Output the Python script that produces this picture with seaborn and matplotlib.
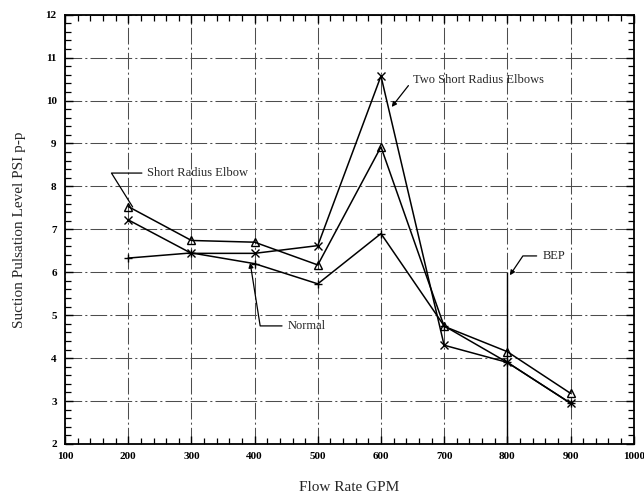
import numpy as np
import pandas as pd
import matplotlib
matplotlib.use("Agg")
import matplotlib.pyplot as plt
import seaborn as sns
from matplotlib.ticker import MultipleLocator

flow = [200, 300, 400, 500, 600, 700, 800, 900]
normal = [6.33, 6.45, 6.20, 5.73, 6.90, 4.75, 3.90, 2.95]
short_elbow = [7.53, 6.74, 6.70, 6.17, 8.92, 4.74, 4.15, 3.18]
two_elbows = [7.22, 6.44, 6.44, 6.62, 10.57, 4.30, 3.90, 2.95]
series_names = ["Normal", "Short Radius Elbow", "Two Short Radius Elbows"]

df = pd.DataFrame({
    "flow": flow * 3,
    "psi": normal + short_elbow + two_elbows,
    "series": [series_names[0]] * 8 + [series_names[1]] * 8 + [series_names[2]] * 8,
})

sns.set_theme(style="white")
plt.rcParams["font.family"] = ["Liberation Serif", "DejaVu Serif"]

fig = plt.figure(figsize=(6.44, 5.01), dpi=100)
ax = fig.add_axes([0.101, 0.1138, 0.883, 0.857])

markers = {series_names[0]: "+", series_names[1]: "^", series_names[2]: "x"}
msizes = {series_names[0]: 6, series_names[1]: 5.5, series_names[2]: 6}
for name in series_names:
    sub = df[df["series"] == name]
    sns.lineplot(data=sub, x="flow", y="psi", ax=ax, color="black", lw=1.1,
                 marker=markers[name], markersize=msizes[name], markerfacecolor="none",
                 markeredgecolor="black", markeredgewidth=1.0, legend=False)

ax.set_xlim(100, 1000)
ax.set_ylim(2, 12)
ax.xaxis.set_major_locator(MultipleLocator(100))
ax.xaxis.set_minor_locator(MultipleLocator(20))
ax.yaxis.set_major_locator(MultipleLocator(1))
ax.yaxis.set_minor_locator(MultipleLocator(0.2))
ax.tick_params(which="both", direction="in", top=True, right=True,
               bottom=True, left=True, colors="black")
ax.tick_params(which="major", length=6, width=1.0, labelsize=8, pad=6)
ax.tick_params(which="minor", length=4.5, width=0.9)
for lab in ax.get_xticklabels() + ax.get_yticklabels():
    lab.set_fontweight("bold")
for sp in ax.spines.values():
    sp.set_color("black")
    sp.set_linewidth(1.3)

ax.grid(True, which="major", color="0.3", lw=0.75, linestyle=(0, (16, 3, 2, 3)))

# BEP vertical line
ax.vlines(800, 2, 6.0, color="black", lw=1.0)

ax.set_xlabel("Flow Rate GPM", fontsize=11, labelpad=14)
ax.set_ylabel("Suction Pulsation Level PSI p-p", fontsize=11, labelpad=14)

ax.annotate("Short Radius Elbow", xy=(207, 7.52), xytext=(229, 8.31),
            fontsize=9, va="center", ha="left",
            arrowprops=dict(arrowstyle="-", color="black", lw=0.9, relpos=(0, 0.5),
                            connectionstyle="angle,angleA=0,angleB=122,rad=0",
                            shrinkA=1, shrinkB=0))
ax.annotate("Two Short Radius Elbows", xy=(617, 9.85), xytext=(650, 10.47),
            fontsize=9, va="center", ha="left",
            arrowprops=dict(arrowstyle="-|>", color="black", lw=0.9, relpos=(0, 0.5),
                            mutation_scale=7, shrinkA=1, shrinkB=0))
ax.annotate("Normal", xy=(393, 6.22), xytext=(453, 4.75),
            fontsize=9, va="center", ha="left",
            arrowprops=dict(arrowstyle="-|>", color="black", lw=0.9, relpos=(0, 0.5),
                            mutation_scale=7, shrinkA=2, shrinkB=0,
                            connectionstyle="angle,angleA=0,angleB=99,rad=0"))
ax.annotate("BEP", xy=(804, 5.93), xytext=(856, 6.38),
            fontsize=9, va="center", ha="left",
            arrowprops=dict(arrowstyle="-|>", color="black", lw=0.9, relpos=(0, 0.5),
                            mutation_scale=7, shrinkA=2, shrinkB=0,
                            connectionstyle="angle,angleA=0,angleB=56,rad=0"))

fig.savefig("out.png", dpi=100)
